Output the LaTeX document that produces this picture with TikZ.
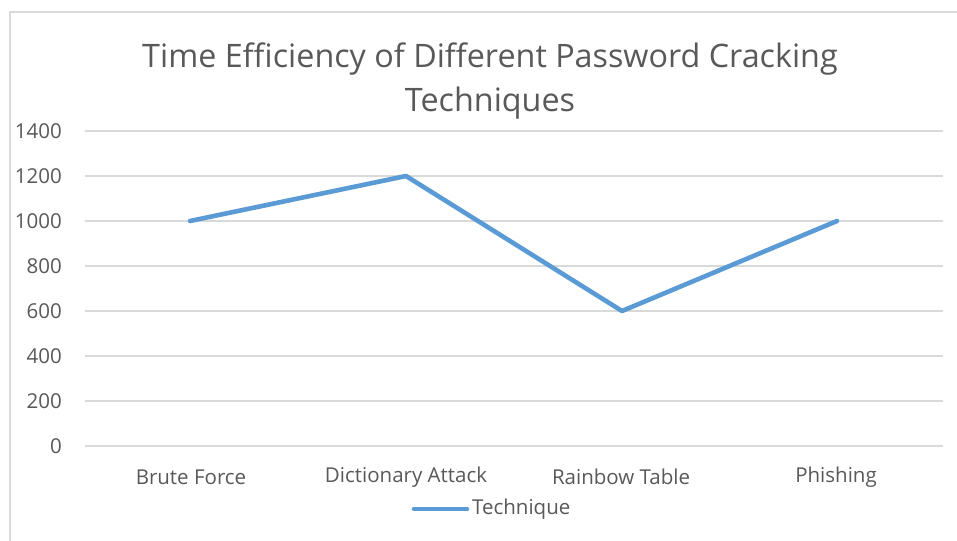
\documentclass[tikz,border=0pt]{standalone}
\usepackage{fontspec}
\setmainfont{Open Sans}
\definecolor{txt}{HTML}{595959}
\definecolor{grid}{HTML}{D9D9D9}
\definecolor{series}{HTML}{5B9BD5}
\tikzset{
  gridline/.style={draw=grid, line width=1.2pt},
  ylab/.style={anchor=east, text=txt, font=\fontsize{20.5}{25}\selectfont, inner sep=0pt},
  xlab/.style={anchor=center, text=txt, font=\fontsize{20.5}{25}\selectfont, inner sep=0pt},
  serline/.style={draw=series, line width=4.6pt, line join=round, line cap=round},
}
\begin{document}
\begin{tikzpicture}[x=1pt, y=-1pt]
\useasboundingbox (0,0) rectangle (957,540);
\fill[white] (0,0) rectangle (957,540);
\draw[grid, line width=1.2pt] (10,545) -- (10,12) -- (962,12);
% title
\node[text=txt, font=\fontsize{32.3}{44}\selectfont, align=center, inner sep=0pt] (title) at (490,81) {Time Efficiency of Different Password Cracking\\Techniques};
% gridlines and y labels
\foreach \v/\y in {0/446,200/401,400/356,600/311,800/266,1000/221,1200/176,1400/131}{
  \draw[gridline] (85,\y) -- (943,\y);
  \node[ylab] (y\v) at (62,\y) {\v};
}
% x labels
\node[xlab] (c1) at (191,477) {Brute Force};
\node[xlab] (c2) at (406,477) {Dictionary Attack};
\node[xlab] (c3) at (621,477) {Rainbow Table};
\node[xlab] (c4) at (836,477) {Phishing};
% data
\coordinate (p1) at (190,221);
\coordinate (p2) at (406,176);
\coordinate (p3) at (622,311);
\coordinate (p4) at (837,221);
\draw[serline] (p1) -- (p2) -- (p3) -- (p4);
% legend
\coordinate (l1) at (414,509);
\coordinate (l2) at (467,509);
\draw[serline] (l1) -- (l2);
\node[anchor=west, text=txt, font=\fontsize{20.5}{25}\selectfont, inner sep=0pt] (leg) at (472,509) {Technique};
\end{tikzpicture}
\end{document}
